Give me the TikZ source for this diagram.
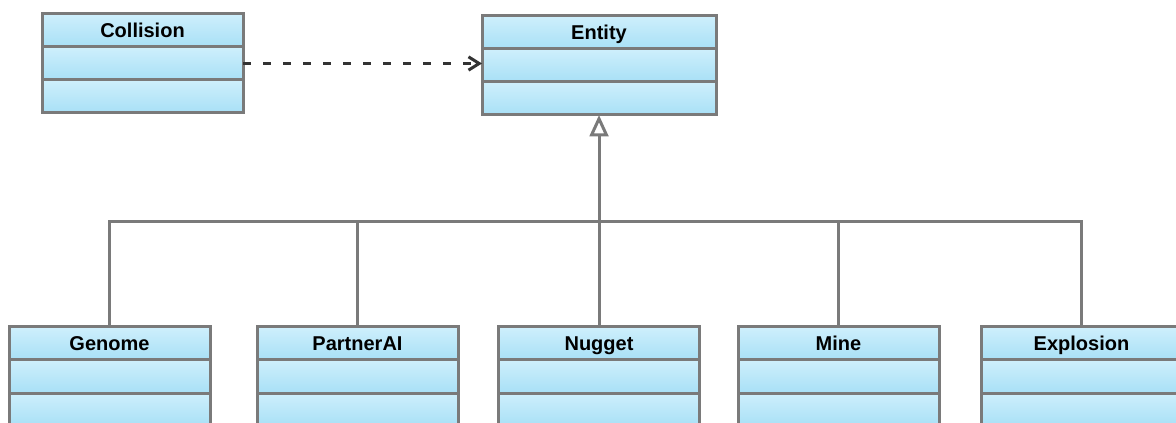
\documentclass[tikz,border=0pt]{standalone}
\usepackage{fontspec}
\setmainfont{Liberation Sans}
\usetikzlibrary{positioning,arrows.meta}
\definecolor{boxgray}{RGB}{122,122,122}
\definecolor{filltop}{RGB}{206,239,252}
\definecolor{fillbottom}{RGB}{168,224,246}
\definecolor{dashgray}{RGB}{51,51,51}
\begin{document}
\begin{tikzpicture}[x=0.75pt, y=-0.75pt,
  classpart/.style={draw=boxgray, line width=2.25pt, top color=filltop, bottom color=fillbottom,
    minimum height=24.75pt, inner sep=0pt, outer sep=0pt, text height=13.8pt, text depth=3pt,
    font=\fontsize{15}{18}\selectfont\bfseries},
  smallclass/.style={classpart, minimum width=150.75pt},
  wideclass/.style={classpart, minimum width=175.5pt},
  tree/.style={draw=boxgray, line width=2.25pt}]
\useasboundingbox (0,0) rectangle (1176,423);

% Top row of classes
\node[smallclass, anchor=north west] (collision) at (42,14) {Collision};
\node[smallclass, below=0 of collision] (collision2) {};
\node[smallclass, below=0 of collision2] (collision3) {};
\node[wideclass, anchor=north west] (entity) at (482,16) {Entity};
\node[wideclass, below=0 of entity] (entity2) {};
\node[wideclass, below=0 of entity2] (entity3) {};

% Bottom row of classes
\node[smallclass, anchor=north west] (genome) at (9,327) {Genome};
\node[smallclass, below=0 of genome] (genome2) {};
\node[smallclass, below=0 of genome2] (genome3) {};
\node[smallclass, anchor=north west] (partner) at (257,327) {PartnerAI};
\node[smallclass, below=0 of partner] (partner2) {};
\node[smallclass, below=0 of partner2] (partner3) {};
\node[smallclass, anchor=north west] (nugget) at (498.5,327) {Nugget};
\node[smallclass, below=0 of nugget] (nugget2) {};
\node[smallclass, below=0 of nugget2] (nugget3) {};
\node[smallclass, anchor=north west] (mine) at (738,327) {Mine};
\node[smallclass, below=0 of mine] (mine2) {};
\node[smallclass, below=0 of mine2] (mine3) {};
\node[smallclass, anchor=north west] (explosion) at (981,327) {Explosion};
\node[smallclass, below=0 of explosion] (explosion2) {};
\node[smallclass, below=0 of explosion2] (explosion3) {};

% Dependency
\draw[dashgray, line width=2.25pt, dash pattern=on 6pt off 9pt,
  -{Straight Barb[length=8pt, width=10pt]}] (collision2.east) -- (collision2.east -| entity2.west);

% Generalization tree
\coordinate (joint) at (599,222);
\draw[tree, -{Triangle[open, fill=white, length=16pt, width=14pt]}] (joint) -- (entity3.south);
\draw[tree] (genome.north) |- (joint);
\draw[tree] (partner.north) |- (joint);
\draw[tree] (nugget.north) |- (joint);
\draw[tree] (mine.north) |- (joint);
\draw[tree] (explosion.north) |- (joint);
\end{tikzpicture}
\end{document}
